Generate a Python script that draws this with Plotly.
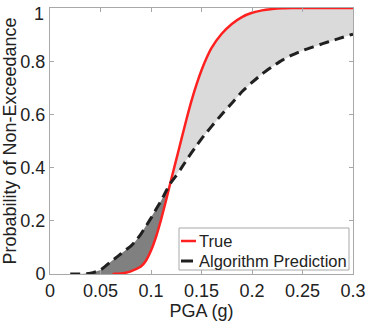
import plotly.graph_objects as go

# Data
pga = [0.02, 0.03, 0.04, 0.05, 0.062, 0.065, 0.07, 0.075, 0.08, 0.085, 0.09, 0.095,
       0.10, 0.105, 0.11, 0.115, 0.119, 0.125, 0.13, 0.135, 0.14, 0.145, 0.15,
       0.155, 0.16, 0.17, 0.18, 0.19, 0.20, 0.21, 0.22, 0.23, 0.24, 0.25, 0.26, 0.27,
       0.28, 0.29, 0.30]
true_cdf = [None, None, None, None, 0.0, 0.0005, 0.002, 0.005, 0.01, 0.018, 0.028, 0.05,
            0.088, 0.14, 0.205, 0.278, 0.34, 0.43, 0.505, 0.58, 0.65, 0.712, 0.766,
            0.812, 0.85, 0.903, 0.94, 0.966, 0.982, 0.991, 0.996, 0.999, 1.0, 1.0, 1.0, 1.0,
            1.0, 1.0, 1.0]
pred_cdf = [0.0, 0.0, 0.003, 0.015, 0.052, 0.06, 0.075, 0.09, 0.105, 0.125, 0.15, 0.18,
            0.21, 0.243, 0.275, 0.312, 0.34, 0.37, 0.398, 0.427, 0.455, 0.482, 0.508,
            0.532, 0.555, 0.60, 0.642, 0.685, 0.72, 0.752, 0.779, 0.804, 0.824, 0.84, 0.853,
            0.866, 0.878, 0.89, 0.902]
series_names = ["True", "Algorithm Prediction"]

x_ticks = [0, 0.05, 0.1, 0.15, 0.2, 0.25, 0.3]
x_labels = ["0", "0.05", "0.1", "0.15", "0.2", "0.25", "0.3"]
y_ticks = [0, 0.2, 0.4, 0.6, 0.8, 1]
y_labels = ["0", "0.2", "0.4", "0.6", "0.8", "1"]

RED = "#ff2020"
BLACK = "#202020"
GRAY = "#a8a8a8"

cross = pga.index(0.119)
true_filled = [v if v is not None else 0.0 for v in true_cdf]

fig = go.Figure()
# dark region (prediction above true)
dx = pga[:cross + 1] + pga[:cross + 1][::-1]
dy = pred_cdf[:cross + 1] + true_filled[:cross + 1][::-1]
fig.add_trace(go.Scatter(x=dx, y=dy, fill="toself", fillcolor="#808080",
                         line=dict(width=0), mode="lines", showlegend=False, hoverinfo="skip"))
# light region (true above prediction)
lx = pga[cross:] + pga[cross:][::-1]
ly = true_filled[cross:] + pred_cdf[cross:][::-1]
fig.add_trace(go.Scatter(x=lx, y=ly, fill="toself", fillcolor="#dadada",
                         line=dict(width=0), mode="lines", showlegend=False, hoverinfo="skip"))

fig.add_trace(go.Scatter(x=pga, y=true_cdf, mode="lines", name=series_names[0], showlegend=False,
                         line=dict(color=RED, width=2.5, shape="spline", smoothing=0.6)))
fig.add_trace(go.Scatter(x=pga, y=pred_cdf, mode="lines", name=series_names[1], showlegend=False,
                         line=dict(color=BLACK, width=3, dash="10px,6px",
                                   shape="spline", smoothing=0.6)))

# the top y label is placed by hand (shifted down to stay inside the figure, as in the reference)
y_ticktext = y_labels[:-1] + [""]

axis_common = dict(showgrid=False, zeroline=False, showline=True, linecolor=GRAY,
                   linewidth=1, mirror="ticks", ticks="inside", ticklen=4,
                   tickcolor=GRAY, tickfont=dict(size=18, color="#222"),
                   automargin=False, ticklabeloverflow="allow")
fig.update_xaxes(range=[0, 0.3], tickvals=x_ticks, ticktext=x_labels,
                 title=dict(text="PGA (g)", font=dict(size=18, color="#222"), standoff=2),
                 **axis_common)
fig.update_yaxes(range=[0, 1], tickvals=y_ticks, ticktext=y_ticktext,
                 title=dict(text="Probability of Non-Exceedance", font=dict(size=18, color="#222"),
                            standoff=1),
                 **axis_common)

# Legend box drawn in paper coordinates (bottom-right, inside the axes)
L, R, T, B = 50, 353, 8, 274
def px(p):
    return (p - L) / (R - L)
def py(p):
    return (B - p) / (B - T)

shapes = [
    dict(type="rect", xref="paper", yref="paper", x0=px(179), x1=px(349), y0=py(270), y1=py(228),
         line=dict(color=GRAY, width=1), fillcolor="white", layer="above"),
    dict(type="line", xref="paper", yref="paper", x0=px(181), x1=px(196), y0=py(241), y1=py(241),
         line=dict(color=RED, width=2.5), layer="above"),
    dict(type="line", xref="paper", yref="paper", x0=px(181), x1=px(197), y0=py(261), y1=py(261),
         line=dict(color=BLACK, width=3, dash="12px,6px"), layer="above"),
]
annotations = [
    dict(x=px(197), y=py(241), xref="paper", yref="paper", text=series_names[0], showarrow=False,
         xanchor="left", yanchor="middle", font=dict(size=16.5, color="#222")),
    dict(x=px(197), y=py(261), xref="paper", yref="paper", text=series_names[1], showarrow=False,
         xanchor="left", yanchor="middle", font=dict(size=16.5, color="#222")),
    dict(x=px(46), y=py(14), xref="paper", yref="paper", text=y_labels[-1], showarrow=False,
         xanchor="right", yanchor="middle", font=dict(size=18, color="#222")),
]

fig.update_layout(
    width=367, height=322,
    margin=dict(l=L, r=367 - R, t=T, b=322 - B),
    plot_bgcolor="white", paper_bgcolor="white",
    font=dict(family="Arial, Liberation Sans, sans-serif", size=18, color="#222"),
    showlegend=False,
    shapes=shapes,
    annotations=annotations,
)

fig.write_html("out.html", post_script="document.body.style.margin='0';",
               config={"displayModeBar": False})
